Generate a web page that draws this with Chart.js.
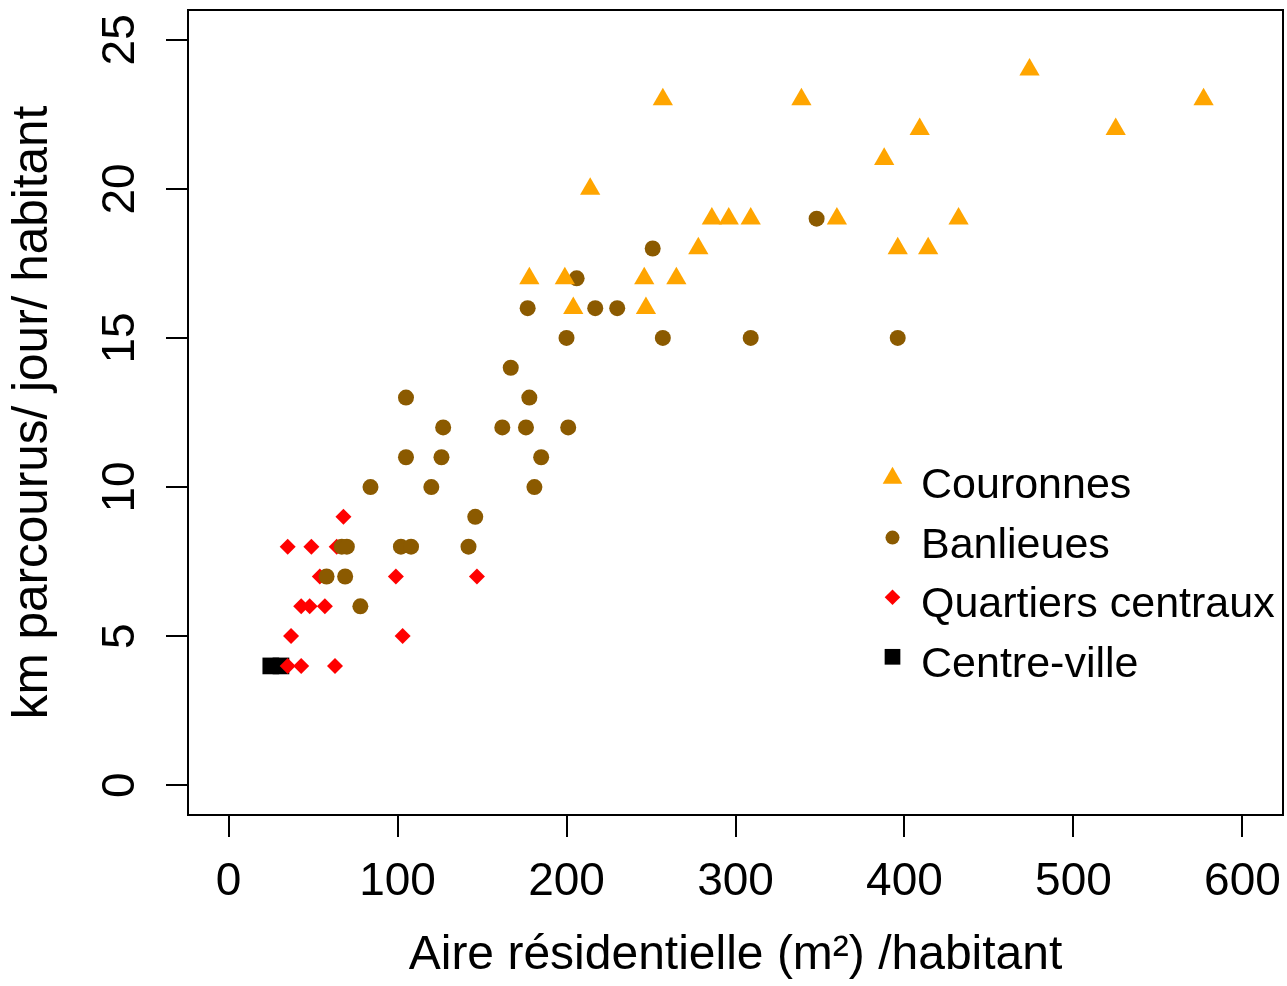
<!DOCTYPE html>
<html>
<head>
<meta charset="utf-8">
<script src="https://cdn.jsdelivr.net/npm/chart.js@4.4.0/dist/chart.umd.min.js"></script>
<style>
  html, body { margin: 0; padding: 0; background: #fff; }
  #wrap { width: 1287px; height: 986px; }
</style>
</head>
<body>
<div id="wrap"><canvas id="chart"></canvas></div>
<script>
// series names, in the legend order
const seriesNames = ["Couronnes", "Banlieues", "Quartiers centraux", "Centre-ville"];

// Couronnes
const couronnesX = [214, 257, 339, 474, 525, 577, 409, 388, 178, 199, 204, 246, 265, 247, 278, 286, 296, 309, 360, 396, 414, 432];
const couronnesY = [20, 23, 23, 24, 22, 23, 22, 21, 17, 17, 16, 17, 17, 16, 18, 19, 19, 19, 19, 18, 18, 19];

// Banlieues
const banlieuesX = [251, 348, 206, 177, 217, 230, 200, 257, 309, 396, 167, 105, 178, 127, 162, 176, 201, 105, 126, 185, 84, 120, 181, 146, 67, 70, 102, 108, 142, 58, 69, 78];
const banlieuesY = [18, 19, 17, 16, 16, 16, 15, 15, 15, 15, 14, 13, 13, 12, 12, 12, 12, 11, 11, 11, 10, 10, 10, 9, 8, 8, 8, 8, 8, 7, 7, 6];

// Quartiers centraux
const quartiersX = [68, 35, 49, 64, 54, 99, 147, 43, 48, 57, 37, 103, 35, 43, 63];
const quartiersY = [9, 8, 8, 8, 7, 7, 7, 6, 6, 6, 5, 5, 4, 4, 4];

// Centre-ville
const centreX = [25, 31];
const centreY = [4, 4];

const xTicks = [0, 100, 200, 300, 400, 500, 600];
const yTicks = [0, 5, 10, 15, 20, 25];

const colors = ["#FFA500", "#8B5A00", "#FF0000", "#000000"];
const styles = ["triangle", "circle", "rectRot", "rect"];
const radii = [11.7, 8, 8, 11.8];
const legendRadii = [11.3, 7, 7.8, 11.1];

const FONT = "'Liberation Sans', Arial, sans-serif";

function toPoints(xs, ys) {
  return xs.map((x, i) => ({ x: x, y: ys[i] }));
}

const allX = [couronnesX, banlieuesX, quartiersX, centreX];
const allY = [couronnesY, banlieuesY, quartiersY, centreY];

const datasets = seriesNames.map((name, i) => ({
  label: name,
  data: toPoints(allX[i], allY[i]),
  pointStyle: styles[i],
  pointRadius: radii[i],
  pointBackgroundColor: colors[i],
  pointBorderWidth: 0,
  showLine: false,
}));

// plot frame (R-style box)
const framePlugin = {
  id: "frame",
  afterDraw(chart) {
    const { ctx, chartArea } = chart;
    ctx.save();
    ctx.strokeStyle = "#000";
    ctx.lineWidth = 2;
    ctx.strokeRect(chartArea.left, chartArea.top, chartArea.right - chartArea.left, chartArea.bottom - chartArea.top);
    ctx.restore();
  },
};

// legend drawn inside the plot, like the original
const legendPlugin = {
  id: "insideLegend",
  afterDraw(chart) {
    const ctx = chart.ctx;
    const x0 = 892.5;
    const y0 = 478;
    const step = 59.6;
    ctx.save();
    chart.data.datasets.forEach((ds, i) => {
      const y = y0 + i * step;
      ctx.fillStyle = colors[i];
      Chart.helpers.drawPoint(ctx, { pointStyle: styles[i], radius: legendRadii[i], rotation: 0, borderWidth: 0 }, x0, y);
      ctx.fillStyle = "#000";
      ctx.font = "43px " + FONT;
      ctx.textBaseline = "alphabetic";
      ctx.textAlign = "left";
      ctx.fillText(ds.label, 921, y + 20);
    });
    ctx.restore();
  },
};

new Chart(document.getElementById("chart"), {
  type: "scatter",
  data: { datasets: datasets },
  options: {
    responsive: true,
    maintainAspectRatio: false,
    devicePixelRatio: 1,
    animation: false,
    events: [],
    layout: { autoPadding: false, padding: { top: 10, right: 4, left: 0, bottom: 0 } },
    plugins: {
      legend: { display: false },
      tooltip: { enabled: false },
    },
    scales: {
      x: {
        type: "linear",
        min: -24,
        max: 624,
        afterBuildTicks: (scale) => { scale.ticks = xTicks.map((v) => ({ value: v })); },
        afterFit: (scale) => {
          scale.height = 171;
          scale.paddingLeft = 0;
          scale.paddingRight = 0;
        },
        grid: { drawOnChartArea: false, drawTicks: true, tickLength: 22, color: "#000", lineWidth: 2 },
        border: { display: true, color: "#000", width: 2 },
        ticks: { color: "#000", font: { family: FONT, size: 46 }, padding: 18, maxRotation: 0 },
        title: {
          display: true,
          text: "Aire résidentielle (m²) /habitant",
          color: "#000",
          font: { family: FONT, size: 48 },
          padding: { top: 0, bottom: 1 },
        },
      },
      y: {
        type: "linear",
        min: -1,
        max: 26,
        afterBuildTicks: (scale) => { scale.ticks = yTicks.map((v) => ({ value: v })); },
        afterFit: (scale) => {
          scale.width = 188;
          scale.paddingTop = 0;
          scale.paddingBottom = 0;
        },
        grid: { drawOnChartArea: false, drawTicks: true, tickLength: 22, color: "#000", lineWidth: 2 },
        border: { display: true, color: "#000", width: 2 },
        ticks: { color: "#000", font: { family: FONT, size: 46 }, padding: 19, minRotation: 90, maxRotation: 90, crossAlign: "center" },
        title: {
          display: true,
          text: "km parcourus/ jour/ habitant",
          color: "#000",
          font: { family: FONT, size: 49.5 },
          padding: { top: 4, bottom: 0 },
        },
      },
    },
  },
  plugins: [framePlugin, legendPlugin],
});
</script>
</body>
</html>
